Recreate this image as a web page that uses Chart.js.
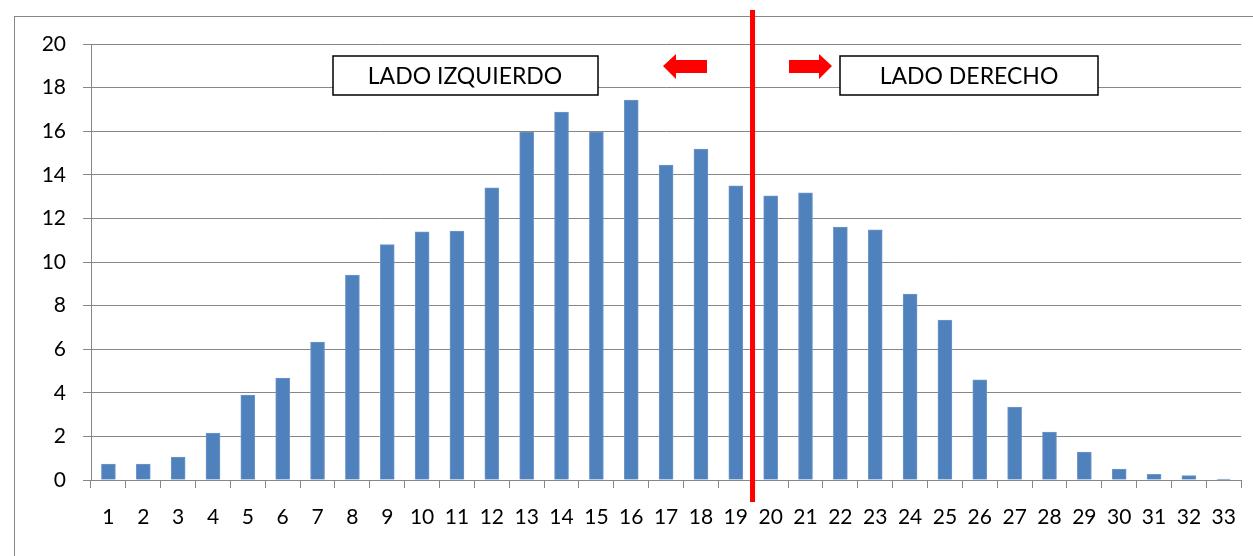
<!DOCTYPE html>
<html>
<head>
<meta charset="utf-8">
<script src="https://cdn.jsdelivr.net/npm/chart.js@4"></script>
<style>
  html, body { margin: 0; padding: 0; background: #fff; }
  #wrap { width: 1253px; height: 556px; position: relative; }
</style>
</head>
<body>
<div id="wrap"><canvas id="distChart"></canvas></div>
<script>
// Categories 1..33
const categories = ['1','2','3','4','5','6','7','8','9','10','11','12','13','14','15','16','17','18','19','20','21','22','23','24','25','26','27','28','29','30','31','32','33'];
// Bar heights
const values = [0.73, 0.73, 1.05, 2.15, 3.9, 4.68, 6.33, 9.4, 10.8, 11.38, 11.42, 13.4, 15.96, 16.88, 15.96, 17.43, 14.45, 15.18, 13.49, 13.03, 13.17, 11.6, 11.47, 8.53, 7.34, 4.59, 3.35, 2.2, 1.28, 0.5, 0.26, 0.2, 0.04];
const yTicks = [0, 2, 4, 6, 8, 10, 12, 14, 16, 18, 20];
const leftLabel = 'LADO IZQUIERDO';
const rightLabel = 'LADO DERECHO';

const FONT = "Lato, 'Open Sans', sans-serif";
const GRID = '#868686';

// Frame, divider line, arrows and the two text boxes
const overlay = {
    id: 'overlay',
    beforeDraw(chart) {
        const c = chart.ctx;
        c.save();
        c.strokeStyle = GRID;
        c.lineWidth = 1;
        c.strokeRect(14.5, 16.5, 1260, 560);
        c.restore();
    },
    afterDraw(chart) {
        const c = chart.ctx;
        const x = chart.scales.x;
        c.save();

        // red divider between 19 and 20
        const lx = x.getPixelForValue(18.48);
        c.strokeStyle = '#ff0000';
        c.lineWidth = 5;
        c.beginPath();
        c.moveTo(lx, 10);
        c.lineTo(lx, 502);
        c.stroke();

        // arrows
        c.fillStyle = '#ff0000';
        c.beginPath();
        c.moveTo(663, 66);
        c.lineTo(676, 54);
        c.lineTo(676, 60);
        c.lineTo(707, 60);
        c.lineTo(707, 73);
        c.lineTo(676, 73);
        c.lineTo(676, 79);
        c.closePath();
        c.fill();

        c.beginPath();
        c.moveTo(832, 66);
        c.lineTo(819, 54);
        c.lineTo(819, 60);
        c.lineTo(789, 60);
        c.lineTo(789, 73);
        c.lineTo(819, 73);
        c.lineTo(819, 79);
        c.closePath();
        c.fill();

        // text boxes
        c.strokeStyle = '#000';
        c.lineWidth = 1.5;
        c.fillStyle = '#fff';
        c.fillRect(333, 56, 265, 39);
        c.strokeRect(333, 56, 265, 39);
        c.fillRect(840, 56, 258, 39);
        c.strokeRect(840, 56, 258, 39);

        c.fillStyle = '#000';
        c.font = '23px ' + FONT;
        c.textAlign = 'center';
        c.textBaseline = 'middle';
        c.fillText(leftLabel, 465, 77);
        c.fillText(rightLabel, 969, 77);
        c.restore();
    }
};

new Chart(document.getElementById('distChart'), {
    type: 'bar',
    data: {
        labels: categories,
        datasets: [{
            data: values,
            backgroundColor: '#4f81bd',
            borderColor: '#6f97c9',
            borderWidth: 1,
            barThickness: 14
        }]
    },
    options: {
        responsive: true,
        maintainAspectRatio: false,
        animation: false,
        layout: { padding: { top: 44, right: 4, left: 0, bottom: 0 } },
        plugins: {
            legend: { display: false },
            tooltip: { enabled: false }
        },
        scales: {
            x: {
                afterFit(scale) { scale.height = 76; },
                grid: {
                    drawOnChartArea: false,
                    drawTicks: true,
                    tickLength: 8,
                    color: GRID
                },
                border: { color: GRID, width: 1 },
                ticks: {
                    color: '#000',
                    padding: 17,
                    maxRotation: 0,
                    autoSkip: false,
                    font: { family: FONT, size: 21 }
                }
            },
            y: {
                min: 0,
                max: 20,
                afterFit(scale) { scale.width = 91; },
                afterBuildTicks(scale) {
                    scale.ticks = yTicks.map(v => ({ value: v }));
                },
                grid: {
                    color: GRID,
                    lineWidth: 1,
                    drawTicks: true,
                    tickLength: 8
                },
                border: { color: GRID, width: 1 },
                ticks: {
                    color: '#000',
                    padding: 17,
                    font: { family: FONT, size: 21 }
                }
            }
        }
    },
    plugins: [overlay]
});
</script>
</body>
</html>
